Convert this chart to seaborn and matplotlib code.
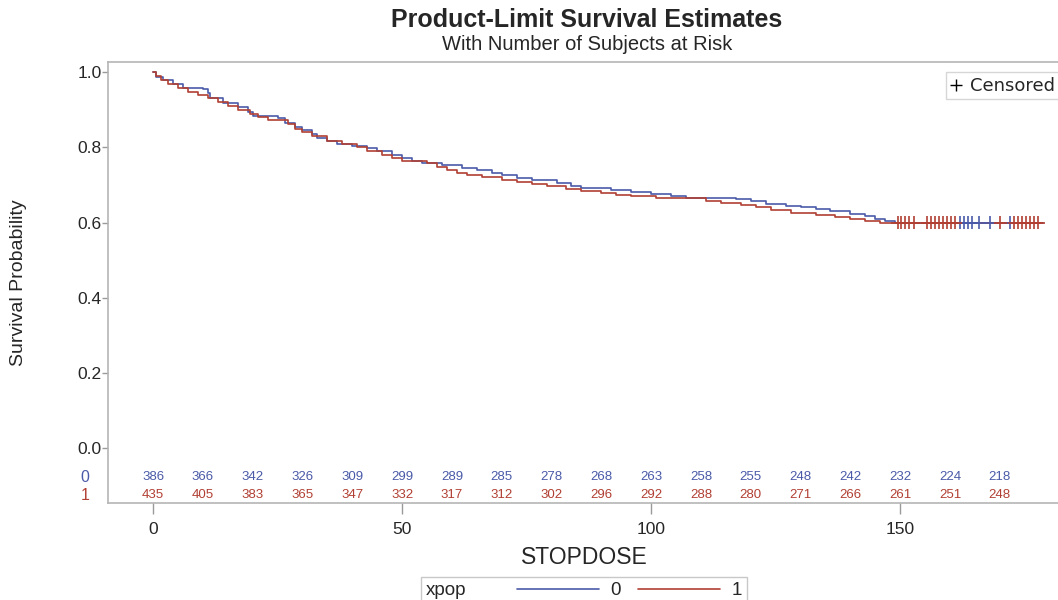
import matplotlib
matplotlib.use('Agg')
import matplotlib.pyplot as plt
import pandas as pd
import seaborn as sns
from matplotlib.lines import Line2D
from matplotlib.offsetbox import HPacker

# Kaplan-Meier steps (time, survival)
t0 = [0, 0.5, 2, 4, 6, 10, 11, 11.5, 14, 17, 19, 20, 25, 26.5, 28.5, 30, 32, 33, 35, 37,
      40, 43, 45, 48, 50, 52, 54, 58, 62, 65, 68, 70, 73, 76, 81, 84, 86, 92, 96, 100,
      104, 107, 117, 120, 123, 127, 130, 133, 136, 140, 143, 145, 147, 149, 178.7]
s0 = [1.0, 0.987, 0.979, 0.969, 0.959, 0.954, 0.944, 0.930, 0.918, 0.906, 0.894, 0.884, 0.878,
      0.866, 0.855, 0.846, 0.836, 0.826, 0.818, 0.810, 0.803, 0.797, 0.789, 0.780, 0.772, 0.765,
      0.758, 0.752, 0.746, 0.740, 0.733, 0.726, 0.719, 0.712, 0.706, 0.698, 0.692, 0.687, 0.682,
      0.676, 0.671, 0.666, 0.662, 0.656, 0.650, 0.645, 0.640, 0.635, 0.630, 0.624, 0.617, 0.610,
      0.604, 0.600, 0.600]
t1 = [0, 0.5, 1.5, 3, 5, 7, 9, 11, 13, 15, 17, 19.5, 21, 23, 27, 28.5, 30, 32, 35, 38, 41,
      43, 46, 48, 50, 55, 57, 59, 61, 63, 66, 70, 73, 76, 79, 83, 86, 90, 93, 96, 101, 111,
      114, 118, 121, 124, 128, 133, 137, 140, 143, 146, 178.5]
s1 = [1.0, 0.990, 0.978, 0.968, 0.958, 0.948, 0.940, 0.930, 0.920, 0.910, 0.900, 0.890, 0.880,
      0.872, 0.862, 0.850, 0.840, 0.830, 0.818, 0.808, 0.800, 0.790, 0.780, 0.772, 0.765, 0.758,
      0.748, 0.740, 0.732, 0.726, 0.720, 0.714, 0.708, 0.702, 0.696, 0.689, 0.683, 0.678, 0.674,
      0.670, 0.666, 0.658, 0.652, 0.646, 0.640, 0.634, 0.626, 0.620, 0.615, 0.610, 0.605, 0.600,
      0.600]

# censored times (all at the final level 0.60)
cens0 = [162.0, 162.8, 163.7, 164.5, 165.9, 168.1, 172.1]
cens1 = [149.5, 150.2, 151.0, 151.8, 152.7, 155.4, 156.2, 157.0, 157.8, 158.6, 159.4, 160.2,
         161.0, 170.1, 172.9, 173.7, 174.5, 175.3, 176.1, 176.9, 177.7]
cens_level = 0.60

# number at risk table
risk_times = [0, 10, 20, 30, 40, 50, 60, 70, 80, 90, 100, 110, 120, 130, 140, 150, 160, 170]
risk0 = [386, 366, 342, 326, 309, 299, 289, 285, 278, 268, 263, 258, 255, 248, 242, 232, 224, 218]
risk1 = [435, 405, 383, 365, 347, 332, 317, 312, 302, 296, 292, 288, 280, 271, 266, 261, 251, 248]

blue = '#4a5aa8'
red = '#b13f33'
pal = {'0': blue, '1': red}

sns.set_theme(style='white')
plt.rcParams['font.family'] = ['Liberation Sans', 'DejaVu Sans']
narrow = ['Liberation Sans Narrow', 'Liberation Sans', 'DejaVu Sans']

df = pd.concat([
    pd.DataFrame({'STOPDOSE': t0, 'surv': s0, 'xpop': '0'}),
    pd.DataFrame({'STOPDOSE': t1, 'surv': s1, 'xpop': '1'}),
])
cdf = pd.concat([
    pd.DataFrame({'STOPDOSE': cens0, 'surv': cens_level, 'xpop': '0'}),
    pd.DataFrame({'STOPDOSE': cens1, 'surv': cens_level, 'xpop': '1'}),
])

fig = plt.figure(figsize=(10.58, 6), dpi=100)
ax = fig.add_axes([108 / 1058, 1 - 503 / 600, 1.002 - 108 / 1058, 441 / 600])

sns.lineplot(data=df, x='STOPDOSE', y='surv', hue='xpop', palette=pal, estimator=None,
             drawstyle='steps-post', linewidth=1.2, legend=False, ax=ax)
sns.scatterplot(data=cdf, x='STOPDOSE', y='surv', hue='xpop', palette=pal, marker='+',
                s=90, linewidth=1.2, legend=False, ax=ax, zorder=3)

ax.set_xlim(-9.04, 182.1)
ax.set_ylim(-0.146, 1.027)
ax.set_xticks([0, 50, 100, 150])
ax.set_yticks([0.0, 0.2, 0.4, 0.6, 0.8, 1.0])
ax.set_yticklabels(['0.0', '0.2', '0.4', '0.6', '0.8', '1.0'])
ax.tick_params(axis='x', length=8, width=1, color='#9a9a9a', labelsize=12.5, pad=6,
               bottom=True, direction='out')
ax.tick_params(axis='y', length=4, width=1, color='#9a9a9a', labelsize=12.5, pad=0.5,
               left=True, direction='out')
for sp in ax.spines.values():
    sp.set_color('#b5b5b5')
    sp.set_linewidth(1.2)

ax.set_xlabel('STOPDOSE', fontsize=16.5, labelpad=6)
ax.set_ylabel('Survival Probability', fontsize=14, family=narrow, labelpad=36)

# at-risk table inside the plot
for t, n0, n1 in zip(risk_times, risk0, risk1):
    ax.text(t, -0.078, str(n0), color=blue, fontsize=9.5, ha='center', va='center')
    ax.text(t, -0.126, str(n1), color=red, fontsize=9.5, ha='center', va='center')
ytr = ax.get_yaxis_transform()
ax.text(-0.024, -0.078, '0', color=blue, fontsize=11.5, ha='center', va='center', transform=ytr)
ax.text(-0.024, -0.126, '1', color=red, fontsize=11.5, ha='center', va='center', transform=ytr)

# censored legend
cleg = ax.legend([Line2D([], [], color='black', marker='+', ls='none', markersize=8)],
                 ['Censored'], loc='upper right', bbox_to_anchor=(1.009, 0.997),
                 prop={'family': 'DejaVu Sans', 'size': 13}, frameon=True, fancybox=False,
                 edgecolor='#cccccc', handlelength=0.6, handletextpad=0.5, borderpad=0.25)
cleg.get_frame().set_linewidth(1.0)

# group legend at the bottom, title placed on the left
fs = 13.5
h0 = Line2D([], [], color=blue, lw=1.2)
h1 = Line2D([], [], color=red, lw=1.2)
leg = fig.legend([h0, h1], ['0', '1'], title='xpop', ncol=2, loc='upper center',
                 bbox_to_anchor=(584 / 1058, 1 - 577 / 600), fontsize=fs, title_fontsize=fs,
                 frameon=True, fancybox=False, edgecolor='#bbbbbb', handlelength=4.4,
                 handletextpad=0.6, columnspacing=0.9, borderpad=0.2, borderaxespad=0)
box = HPacker(pad=leg.borderpad * fs * 100 / 72, sep=36, align='center',
              children=[leg._legend_title_box, leg._legend_handle_box])
box.set_figure(fig)
box.axes = None
box.set_offset(leg._findoffset)
leg._legend_box = box
leg.get_frame().set_linewidth(1.0)

fig.text(587 / 1058, 1 - 20 / 600, 'Product-Limit Survival Estimates', fontsize=18,
         fontweight='bold', ha='center', va='center')
fig.text(587 / 1058, 1 - 44 / 600, 'With Number of Subjects at Risk', fontsize=14.5,
         ha='center', va='center')

fig.savefig('out.png', dpi=100)
